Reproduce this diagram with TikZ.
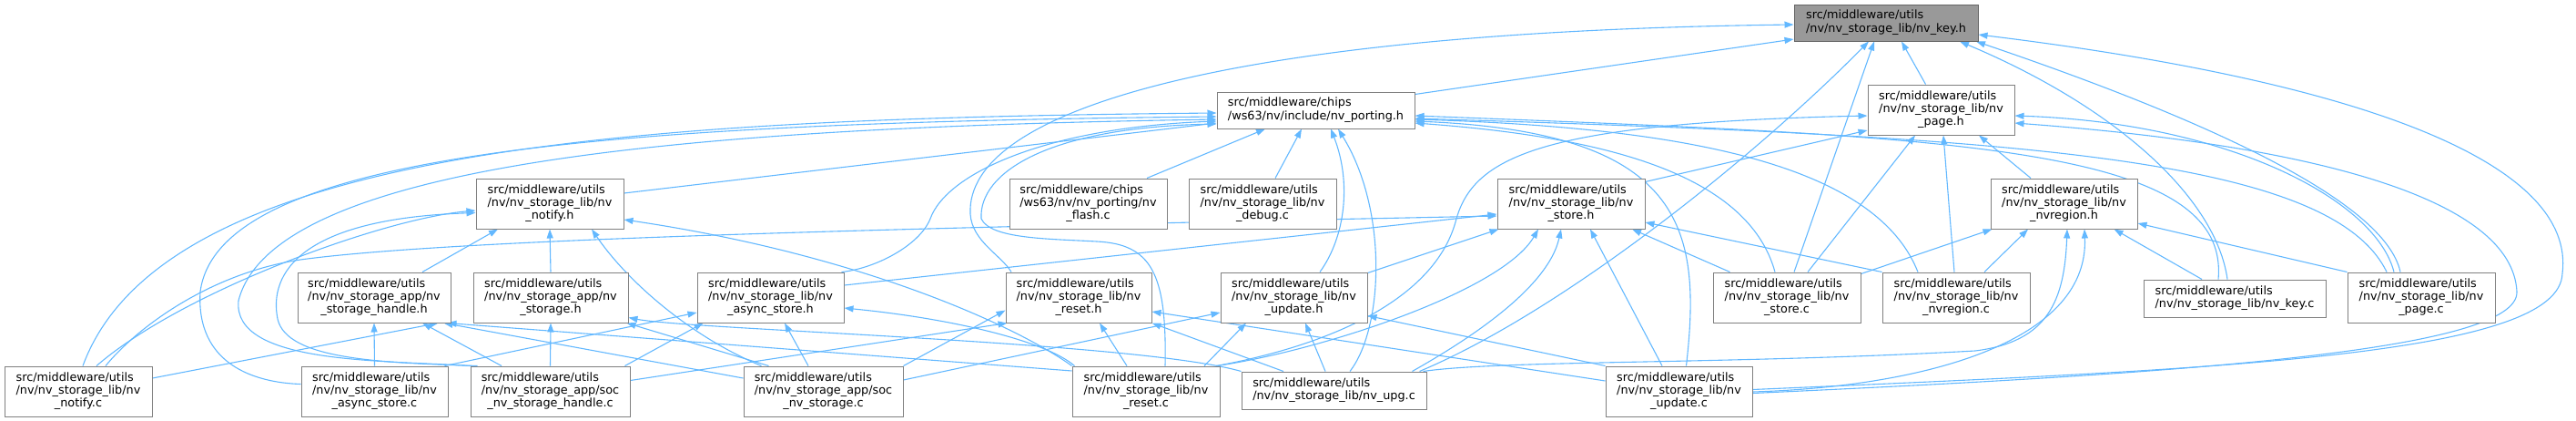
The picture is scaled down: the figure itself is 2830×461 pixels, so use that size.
\documentclass[tikz,border=0pt]{standalone}
\usepackage{fontspec}
\setmainfont{DejaVu Sans}
\usetikzlibrary{arrows.meta}
\definecolor{edgeblue}{HTML}{63B8FF}
\definecolor{boxline}{HTML}{808080}
\definecolor{rootfill}{HTML}{999999}
\definecolor{rootline}{HTML}{666666}
\newcommand{\twoline}[2]{\begin{tabular}[b]{@{}l@{}}#1\\#2\end{tabular}}
\pgfdeclarelayer{bg}
\pgfsetlayers{bg,main}

\begin{document}
\begin{tikzpicture}[x=1pt, y=-1pt,
    filebox/.style={draw=boxline, fill=white, line width=1pt, inner sep=0pt, align=center, minimum height=55pt, font=\fontsize{12.8}{14.3}\selectfont},
    rootbox/.style={filebox, draw=rootline, fill=rootfill},
    incl/.style={draw=edgeblue, line width=1.1pt, arrows={Triangle[length=10pt,width=7pt]-}}]
    \useasboundingbox (0,0) rectangle (2830,461);

    \node[rootbox, minimum width=202pt, minimum height=40pt] (keyh) at (2072,25) {\twoline{src/middleware/utils}{/nv/nv\_storage\_lib/nv\_key.h}};

    \node[filebox, minimum width=217pt, minimum height=40pt] (portingh) at (1445.5,121) {\twoline{src/middleware/chips}{/ws63/nv/include/nv\_porting.h}};
    \node[filebox, minimum width=161pt] (pageh) at (2132.5,120.5) {\twoline{src/middleware/utils}{/nv/nv\_storage\_lib/nv}\\\_page.h\strut};

    \node[filebox, minimum width=162pt] (notifyh) at (604,223.5) {\twoline{src/middleware/utils}{/nv/nv\_storage\_lib/nv}\\\_notify.h\strut};
    \node[filebox, minimum width=173pt] (flashc) at (1195.5,223.5) {\twoline{src/middleware/chips}{/ws63/nv/nv\_porting/nv}\\\_flash.c\strut};
    \node[filebox, minimum width=162pt] (debugc) at (1387,223.5) {\twoline{src/middleware/utils}{/nv/nv\_storage\_lib/nv}\\\_debug.c\strut};
    \node[filebox, minimum width=162pt] (storeh) at (1726,223.5) {\twoline{src/middleware/utils}{/nv/nv\_storage\_lib/nv}\\\_store.h\strut};
    \node[filebox, minimum width=161pt] (nvregionh) at (2267.5,223.5) {\twoline{src/middleware/utils}{/nv/nv\_storage\_lib/nv}\\\_nvregion.h\strut};

    \node[filebox, minimum width=168pt] (handleh) at (411,326.5) {\twoline{src/middleware/utils}{/nv/nv\_storage\_app/nv}\\\_storage\_handle.h\strut};
    \node[filebox, minimum width=170pt] (storageh) at (605,326.5) {\twoline{src/middleware/utils}{/nv/nv\_storage\_app/nv}\\\_storage.h\strut};
    \node[filebox, minimum width=161pt] (asynch) at (846.5,326.5) {\twoline{src/middleware/utils}{/nv/nv\_storage\_lib/nv}\\\_async\_store.h\strut};
    \node[filebox, minimum width=160pt] (reseth) at (1185,326.5) {\twoline{src/middleware/utils}{/nv/nv\_storage\_lib/nv}\\\_reset.h\strut};
    \node[filebox, minimum width=161pt] (updateh) at (1421.5,326.5) {\twoline{src/middleware/utils}{/nv/nv\_storage\_lib/nv}\\\_update.h\strut};
    \node[filebox, minimum width=162pt] (storec) at (1963,326.5) {\twoline{src/middleware/utils}{/nv/nv\_storage\_lib/nv}\\\_store.c\strut};
    \node[filebox, minimum width=162pt] (nvregionc) at (2149,326.5) {\twoline{src/middleware/utils}{/nv/nv\_storage\_lib/nv}\\\_nvregion.c\strut};
    \node[filebox, minimum width=200pt, minimum height=41pt] (keyc) at (2455,327.5) {\twoline{src/middleware/utils}{/nv/nv\_storage\_lib/nv\_key.c}};
    \node[filebox, minimum width=162pt] (pagec) at (2660,326.5) {\twoline{src/middleware/utils}{/nv/nv\_storage\_lib/nv}\\\_page.c\strut};

    \node[filebox, minimum width=162pt] (notifyc) at (86,429.5) {\twoline{src/middleware/utils}{/nv/nv\_storage\_lib/nv}\\\_notify.c\strut};
    \node[filebox, minimum width=161pt] (asyncc) at (411.5,429.5) {\twoline{src/middleware/utils}{/nv/nv\_storage\_lib/nv}\\\_async\_store.c\strut};
    \node[filebox, minimum width=175pt] (sochandlec) at (604.5,429.5) {\twoline{src/middleware/utils}{/nv/nv\_storage\_app/soc}\\\_nv\_storage\_handle.c\strut};
    \node[filebox, minimum width=175pt] (socstoragec) at (904.5,429.5) {\twoline{src/middleware/utils}{/nv/nv\_storage\_app/soc}\\\_nv\_storage.c\strut};
    \node[filebox, minimum width=162pt] (resetc) at (1259,429.5) {\twoline{src/middleware/utils}{/nv/nv\_storage\_lib/nv}\\\_reset.c\strut};
    \node[filebox, minimum width=203pt, minimum height=41pt] (upgc) at (1465.5,428.5) {\twoline{src/middleware/utils}{/nv/nv\_storage\_lib/nv\_upg.c}};
    \node[filebox, minimum width=161pt] (updatec) at (1844.5,429.5) {\twoline{src/middleware/utils}{/nv/nv\_storage\_lib/nv}\\\_update.c\strut};

    \begin{pgfonlayer}{bg}
    % nv_key.h
    \draw[incl] ([yshift=-18]keyh.west) -- ([yshift=-3]portingh.north east);
    \draw[incl] ([yshift=-2]keyh.west) .. controls (1350,35) and (1060,120) .. (1066,235) .. controls (1068,265) and (1100,280) .. ([xshift=-74]reseth.north);
    \draw[incl] ([xshift=-13]keyh.south) -- ([xshift=8]storec.north);
    \draw[incl] ([xshift=-19]keyh.south) .. controls (1930,170) and (1720,340) .. ([xshift=-8]upgc.north east);
    \draw[incl] ([xshift=17]keyh.south) -- ([xshift=-17]pageh.north);
    \draw[incl] ([xshift=81]keyh.south) .. controls (2330,120) and (2435,220) .. ([xshift=-8]keyc.north);
    \draw[incl] ([xshift=99]keyh.south) .. controls (2420,130) and (2620,220) .. ([xshift=-23]pagec.north);
    \draw[incl] ([yshift=-13]keyh.east) .. controls (2600,90) and (2830,180) .. (2815,300) .. controls (2812,390) and (2450,405) .. ([yshift=2]updatec.east);

    % nv_porting.h
    \draw[incl] ([xshift=-55.5]portingh.south) -- ([xshift=64.5]flashc.north);
    \draw[incl] ([xshift=-15.5]portingh.south) -- ([xshift=14]debugc.north);
    \draw[incl] ([xshift=16.5]portingh.south) .. controls (1485,200) and (1478,260) .. ([xshift=28.5]updateh.north);
    \draw[incl] ([xshift=24.5]portingh.south) .. controls (1525,230) and (1520,360) .. ([xshift=17.5]upgc.north);
    \draw[incl] ([yshift=-14]portingh.west) -- ([yshift=11.5]notifyh.east);
    \draw[incl] ([yshift=-3]portingh.west) .. controls (700,130) and (180,160) .. ([xshift=5]notifyc.north);
    \draw[incl] ([yshift=-7]portingh.west) .. controls (650,135) and (240,170) .. (220,320) .. controls (215,400) and (280,420) .. ([yshift=8]asyncc.west);
    \draw[incl] ([yshift=-10]portingh.west) .. controls (750,140) and (300,180) .. (262,330) .. controls (255,400) and (420,395) .. (sochandlec.north west);
    \draw[incl] ([yshift=-12]portingh.west) .. controls (1150,140) and (1040,190) .. (1022,240) .. controls (1010,270) and (960,295) .. ([xshift=-3]asynch.north east);
    \draw[incl] ([yshift=-15]portingh.west) .. controls (1150,140) and (1075,190) .. (1078,240) .. controls (1088,262) and (1150,262) .. (1205,265) .. controls (1265,268) and (1282,300) .. ([xshift=21]resetc.north);
    \draw[incl] ([yshift=-14]portingh.east) .. controls (1760,150) and (1920,190) .. ([xshift=-13]storec.north);
    \draw[incl] ([yshift=-10]portingh.east) .. controls (1850,140) and (2060,180) .. ([xshift=-42]nvregionc.north);
    \draw[incl] ([yshift=-6]portingh.east) .. controls (2150,150) and (2450,160) .. ([xshift=-18]keyc.north);
    \draw[incl] ([yshift=-9]portingh.east) .. controls (2200,150) and (2560,170) .. ([xshift=-38]pagec.north);
    \draw[incl] ([yshift=-12]portingh.east) .. controls (1850,145) and (1870,250) .. ([xshift=8]updatec.north);

    % nv_page.h
    \draw[incl] ([yshift=-22.5]pageh.west) -- ([yshift=-4]storeh.north east);
    \draw[incl] ([yshift=-6.5]pageh.west) .. controls (1700,135) and (1620,170) .. (1600,240) .. controls (1580,320) and (1480,375) .. ([xshift=-4]resetc.north east);
    \draw[incl] ([xshift=41.5]pageh.south) -- ([xshift=-36.5]nvregionh.north);
    \draw[incl] ([xshift=2.5]pageh.south) -- ([xshift=-2]nvregionc.north);
    \draw[incl] ([xshift=-28.5]pageh.south) -- ([xshift=23]storec.north);
    \draw[incl] ([yshift=-6.5]pageh.east) .. controls (2450,135) and (2610,220) .. ([xshift=-30]pagec.north);
    \draw[incl] ([yshift=-14.5]pageh.east) .. controls (2550,160) and (2760,220) .. (2765,320) .. controls (2768,385) and (2400,410) .. ([yshift=-2]updatec.east);

    % nv_notify.h
    \draw[incl] ([xshift=-57]notifyh.south) -- ([xshift=53]handleh.north);
    \draw[incl] (notifyh.south) -- (storageh.north);
    \draw[incl] ([xshift=46]notifyh.south) .. controls (690,310) and (760,370) .. ([xshift=-68]socstoragec.north);
    \draw[incl] ([yshift=-17.5]notifyh.east) .. controls (950,280) and (1120,360) .. (resetc.north west);
    \draw[incl] ([yshift=-7.5]notifyh.west) .. controls (420,240) and (200,320) .. ([xshift=20]notifyc.north);
    \draw[incl] ([yshift=-10]notifyh.west) .. controls (330,240) and (295,300) .. (305,350) .. controls (315,395) and (420,398) .. ([xshift=8]sochandlec.north west);

    % nv_store.h
    \draw[incl] ([yshift=-11.5]storeh.west) -- ([yshift=13.5]asynch.east);
    \draw[incl] ([yshift=-13.5]storeh.west) .. controls (1000,250) and (500,262) .. (330,285) .. controls (230,300) and (150,360) .. ([xshift=30]notifyc.north);
    \draw[incl] ([xshift=2]storeh.south west) -- ([yshift=-1]updateh.north east);
    \draw[incl] ([xshift=-36]storeh.south) .. controls (1650,320) and (1450,385) .. ([xshift=-4]resetc.north east);
    \draw[incl] ([xshift=-11]storeh.south) .. controls (1700,320) and (1600,380) .. ([xshift=-16]upgc.north east);
    \draw[incl] ([xshift=21]storeh.south) -- ([xshift=-18.5]updatec.north);
    \draw[incl] ([xshift=67]storeh.south) -- ([xshift=19]storec.north west);
    \draw[incl] ([yshift=-20.5]storeh.east) -- (nvregionc.north west);

    % nv_nvregion.h
    \draw[incl] ([xshift=2]nvregionh.south west) -- ([yshift=-2]storec.north east);
    \draw[incl] ([xshift=-39.5]nvregionh.south) -- ([xshift=31]nvregionc.north);
    \draw[incl] ([xshift=3.5]nvregionh.south) .. controls (2268,330) and (2250,375) .. (2170,385) .. controls (1900,400) and (1650,395) .. ([xshift=-4]upgc.north east);
    \draw[incl] ([xshift=22.5]nvregionh.south) .. controls (2295,380) and (2100,425) .. ([yshift=-0.5]updatec.east);
    \draw[incl] ([xshift=55]nvregionh.south) -- ([xshift=-36]keyc.north);
    \draw[incl] ([yshift=-21.5]nvregionh.east) -- (pagec.north west);

    % nv_storage_handle.h
    \draw[incl] (handleh.south) -- (asyncc.north);
    \draw[incl] ([xshift=53]handleh.south) -- ([xshift=-53.5]sochandlec.north);
    \draw[incl] ([xshift=-8]handleh.south east) -- ([yshift=14.5]socstoragec.west);
    \draw[incl] ([xshift=-4]handleh.south east) -- ([yshift=22.5]resetc.west);
    \draw[incl] ([xshift=-14]handleh.south east) -- ([yshift=14.5]notifyc.east);

    % nv_storage.h
    \draw[incl] (storageh.south) -- (sochandlec.north);
    \draw[incl] ([xshift=-2]storageh.south east) -- ([xshift=-60]socstoragec.north);
    \draw[incl] ([yshift=-22]storageh.east) .. controls (760,362) and (1250,375) .. (upgc.north west);

    % nv_async_store.h
    \draw[incl] ([yshift=-16.5]asynch.west) -- ([xshift=-4]asyncc.north east);
    \draw[incl] ([xshift=7]asynch.south west) -- ([xshift=-6]sochandlec.north east);
    \draw[incl] ([xshift=15.5]asynch.south) -- ([xshift=-16.5]socstoragec.north);
    \draw[incl] ([yshift=-11.5]asynch.east) .. controls (1050,350) and (1150,375) .. ([xshift=3]resetc.north west);

    % nv_reset.h
    \draw[incl] ([xshift=23]reseth.south) -- ([xshift=-21]resetc.north);
    \draw[incl] (reseth.south east) -- ([xshift=-55.5]upgc.north);
    \draw[incl] ([yshift=-15.5]reseth.east) -- ([yshift=11.5]updatec.west);
    \draw[incl] ([yshift=-14]reseth.west) -- (socstoragec.north east);
    \draw[incl] ([xshift=2]reseth.south west) -- ([yshift=12]sochandlec.east);

    % nv_update.h
    \draw[incl] ([yshift=-16.5]updateh.west) -- ([yshift=12.5]socstoragec.east);
    \draw[incl] ([xshift=-52.5]updateh.south) -- ([xshift=64]resetc.north);
    \draw[incl] ([xshift=12.5]updateh.south) -- ([xshift=-9.5]upgc.north);
    \draw[incl] ([yshift=-20]updateh.east) -- (updatec.north west);
    \end{pgfonlayer}
\end{tikzpicture}
\end{document}
